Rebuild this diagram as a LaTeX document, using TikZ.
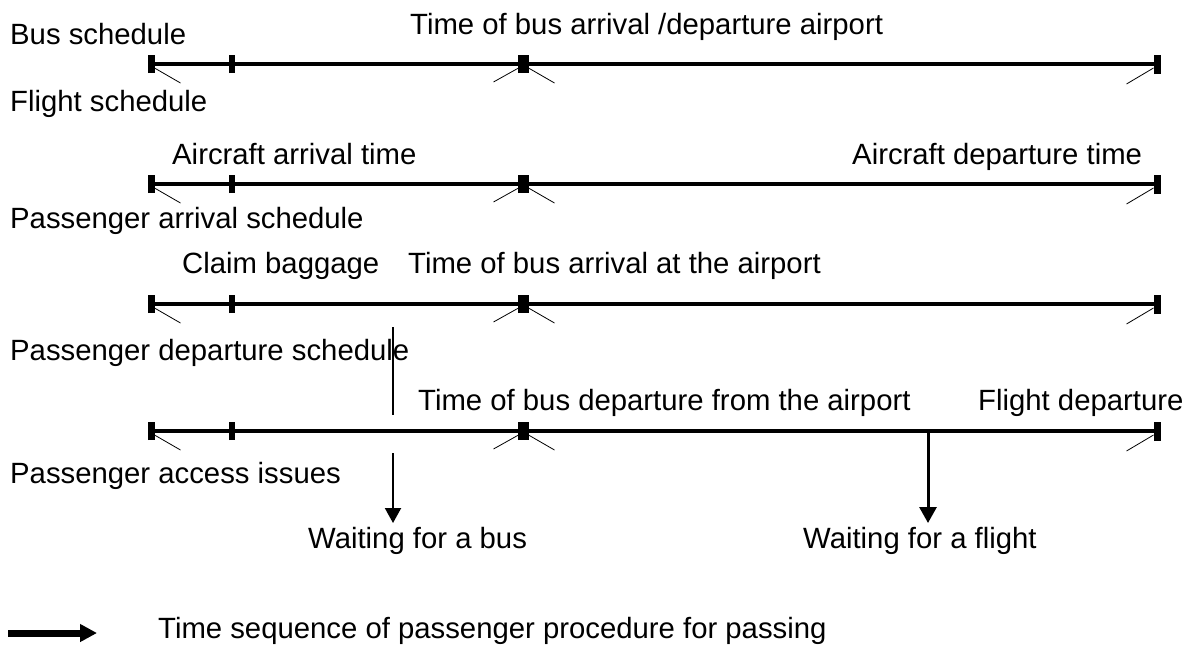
\documentclass[tikz,border=0pt]{standalone}
\usepackage{fontspec}
\setmainfont{Liberation Sans}
\usetikzlibrary{arrows.meta}
\begin{document}
\begin{tikzpicture}[x=1pt,y=-1pt,
  lbl/.style={anchor=base west,inner sep=0pt,font=\fontsize{29.3}{32}\selectfont},
  tline/.style={line width=3.6pt},
  endtick/.style={line width=6.5pt},
  midtick/.style={line width=11pt},
  thin/.style={line width=0.8pt},
  vline/.style={line width=2pt},
  flow/.style={line width=2pt,-{Triangle[width=16pt,length=15pt]}},
  flowb/.style={line width=3pt,-{Triangle[width=17pt,length=16pt]}},
  legend/.style={line width=7pt,-{Triangle[width=17pt,length=17pt]}}]
\useasboundingbox (0,0) rectangle (1190,646);
% timelines
\foreach \r/\y in {1/64,2/184,3/304,4/431}{
  \coordinate (L\r) at (151.5,\y);
  \coordinate (T\r) at (232,\y);
  \coordinate (M\r) at (523.5,\y);
  \coordinate (E\r) at (1157.5,\y);
  \draw[tline] (L\r) -- (E\r);
  \draw[endtick] ([yshift=-9pt]L\r) -- ([yshift=9pt]L\r);
  \draw[endtick] ([yshift=-9pt]T\r) -- ([yshift=9pt]T\r);
  \draw[midtick] ([yshift=-9pt]M\r) -- ([yshift=9pt]M\r);
  \draw[endtick] ([yshift=-10pt]E\r) -- ([yshift=9pt]E\r);
  \draw[thin] ([shift={(3,4)}]L\r) -- ([shift={(29,19)}]L\r);
  \draw[thin] ([shift={(-5,4)}]M\r) -- ([shift={(-30,18)}]M\r);
  \draw[thin] ([shift={(5,4)}]M\r) -- ([shift={(31,19)}]M\r);
  \draw[thin] ([shift={(-4,4)}]E\r) -- ([shift={(-31,20)}]E\r);
}
% labels
\node[lbl] (bs) at (10,44) {Bus schedule};
\node[lbl] (tb) at (410,34) {Time of bus arrival /departure airport};
\node[lbl] (fs) at (10,111) {Flight schedule};
\node[lbl] (aa) at (172,164) {Aircraft arrival time};
\node[lbl] (ad) at (852,164) {Aircraft departure time};
\node[lbl] (pa) at (10,228) {Passenger arrival schedule};
\node[lbl] (cb) at (182,273) {Claim baggage};
\node[lbl] (ta) at (408,273) {Time of bus arrival at the airport};
\node[lbl] (pd) at (10,360) {Passenger departure schedule};
\node[lbl] (td) at (418,410) {Time of bus departure from the airport};
\node[lbl] (fd) at (978,410) {Flight departure};
\node[lbl] (pi) at (10,483) {Passenger access issues};
\node[lbl] (wb) at (308,548) {Waiting for a bus};
\node[lbl] (wf) at (803,548) {Waiting for a flight};
\node[lbl] (lg) at (158,638) {Time sequence of passenger procedure for passing};
% waiting markers
\coordinate (v1) at (393,327);
\coordinate (v2) at (393,415);
\draw[vline] (v1) -- (v2);
\coordinate (a1s) at (393,453);
\coordinate (a1e) at (393,523);
\draw[flow] (a1s) -- (a1e);
\coordinate (a2s) at (928,429);
\coordinate (a2e) at (928,523);
\draw[flowb] (a2s) -- (a2e);
% legend
\coordinate (ls) at (8,633);
\coordinate (le) at (97,633);
\draw[legend] (ls) -- (le);
\end{tikzpicture}
\end{document}
